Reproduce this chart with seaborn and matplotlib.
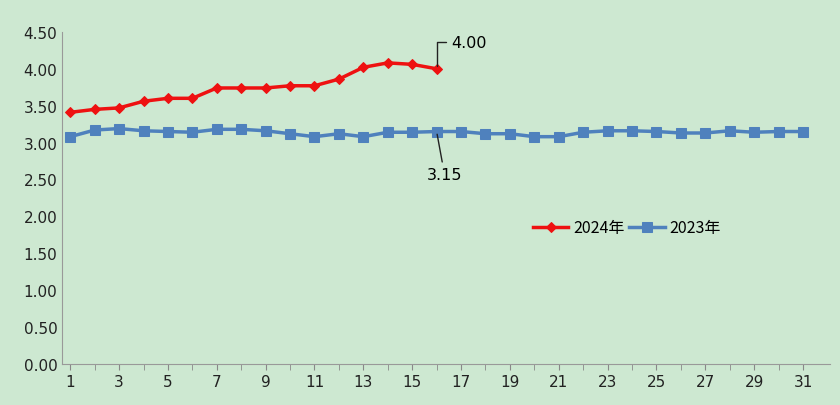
import matplotlib
matplotlib.use("Agg")
import matplotlib.pyplot as plt
import seaborn as sns
import pandas as pd
import numpy as np

days24 = list(range(1, 17))
v2024 = [3.41,3.45,3.47,3.56,3.60,3.60,3.74,3.74,3.74,3.77,3.77,3.86,4.02,4.08,4.06,4.00]
days23 = list(range(1, 32))
v2023 = [3.08,3.17,3.19,3.16,3.15,3.14,3.18,3.18,3.16,3.12,3.08,3.12,3.08,3.14,3.14,3.15,
         3.15,3.12,3.12,3.08,3.08,3.14,3.16,3.16,3.15,3.13,3.13,3.16,3.14,3.15,3.15]
yticks = [0,0.5,1,1.5,2,2.5,3,3.5,4,4.5]
xticks = list(range(1, 32, 2))

bg = "#cde8d1"
fig = plt.figure(figsize=(8.4, 4.06), dpi=100, facecolor=bg)
ax = fig.add_axes([0.074, 0.101, 0.914, 0.818])
ax.set_facecolor(bg)
sns.lineplot(x=days24, y=v2024, ax=ax, color="#ee1111", marker="D", markersize=5.5,
             markeredgecolor="#ee1111", linewidth=2.5, label="2024年")
sns.lineplot(x=days23, y=v2023, ax=ax, color="#4f81bd", marker="s", markersize=6.5,
             markeredgecolor="#4f81bd", linewidth=2.5, label="2023年")
ax.set_ylim(0, 4.5)
ax.set_xlim(0.67, 32.1)
ax.set_yticks(yticks)
ax.set_yticklabels([f"{t:.2f}" for t in yticks])
ax.set_xticks(xticks)
ax.set_xticks(days23, minor=True)
ax.tick_params(labelsize=11, colors="#222222")
ax.tick_params(axis="x", which="both", direction="out", length=4, color="#888888")
ax.tick_params(axis="y", length=0)
for s in ["top", "right"]:
    ax.spines[s].set_visible(False)
for s in ["left", "bottom"]:
    ax.spines[s].set_color("#999999")
ax.annotate(f"{v2024[-1]:.2f}", xy=(days24[-1], v2024[-1]), xytext=(16.6, 4.3),
            fontsize=11.5, arrowprops=dict(arrowstyle="-", color="#222222", connectionstyle="angle,angleA=0,angleB=90,rad=0"))
ax.annotate(f"{v2023[15]:.2f}", xy=(days23[15], v2023[15]), xytext=(15.6, 2.5),
            fontsize=11.5, arrowprops=dict(arrowstyle="-", color="#222222"))
leg = ax.legend(loc="center left", bbox_to_anchor=(0.595, 0.41), ncol=2, frameon=False,
                handlelength=2.2, columnspacing=0.3, handletextpad=0.3,
                prop={"family": "Noto Sans CJK SC", "size": 11.5})
fig.savefig("out.png", dpi=100, facecolor=bg)
